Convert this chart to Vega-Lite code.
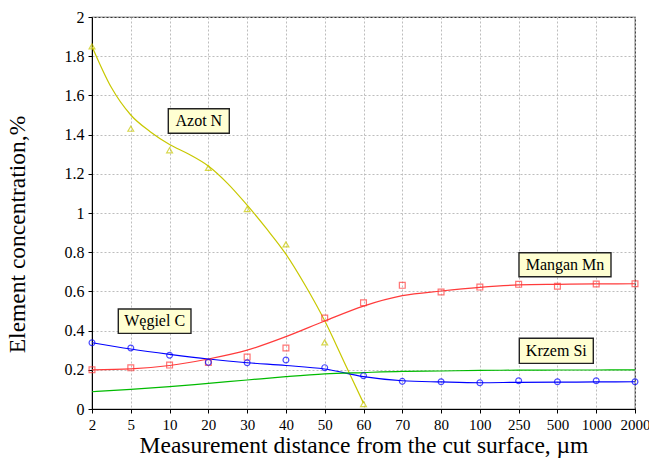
{
  "$schema": "https://vega.github.io/schema/vega-lite/v6.json",
  "width": 543,
  "height": 392,
  "autosize": "none",
  "padding": {"left": 92, "top": 17, "right": 14, "bottom": 58},
  "background": "white",
  "config": {
    "view": {"stroke": "#333333", "strokeWidth": 1.2},
    "font": "Liberation Serif, Times New Roman, serif",
    "axis": {
      "labelFont": "Liberation Serif, Times New Roman, serif",
      "titleFont": "Liberation Serif, Times New Roman, serif",
      "labelColor": "black",
      "titleColor": "black",
      "titleFontWeight": "normal",
      "labelFontWeight": "normal",
      "labelOverlap": false,
      "labelFlush": false,
      "domainColor": "black",
      "tickColor": "black",
      "gridColor": "#bdbdbd",
      "gridDash": [2, 2],
      "gridWidth": 1
    }
  },
  "datasets": {
    "points": [
      {"element": "Azot N", "pos": 0, "dist": "2", "value": 1.85},
      {"element": "Azot N", "pos": 1, "dist": "5", "value": 1.43},
      {"element": "Azot N", "pos": 2, "dist": "10", "value": 1.32},
      {"element": "Azot N", "pos": 3, "dist": "20", "value": 1.23},
      {"element": "Azot N", "pos": 4, "dist": "30", "value": 1.02},
      {"element": "Azot N", "pos": 5, "dist": "40", "value": 0.84},
      {"element": "Azot N", "pos": 6, "dist": "50", "value": 0.34},
      {"element": "Azot N", "pos": 7, "dist": "60", "value": 0.025},
      {"element": "Mangan Mn", "pos": 0, "dist": "2", "value": 0.2},
      {"element": "Mangan Mn", "pos": 1, "dist": "5", "value": 0.21},
      {"element": "Mangan Mn", "pos": 2, "dist": "10", "value": 0.224},
      {"element": "Mangan Mn", "pos": 3, "dist": "20", "value": 0.237},
      {"element": "Mangan Mn", "pos": 4, "dist": "30", "value": 0.265},
      {"element": "Mangan Mn", "pos": 5, "dist": "40", "value": 0.311},
      {"element": "Mangan Mn", "pos": 6, "dist": "50", "value": 0.464},
      {"element": "Mangan Mn", "pos": 7, "dist": "60", "value": 0.542},
      {"element": "Mangan Mn", "pos": 8, "dist": "70", "value": 0.631},
      {"element": "Mangan Mn", "pos": 9, "dist": "80", "value": 0.597},
      {"element": "Mangan Mn", "pos": 10, "dist": "100", "value": 0.622},
      {"element": "Mangan Mn", "pos": 11, "dist": "250", "value": 0.636},
      {"element": "Mangan Mn", "pos": 12, "dist": "500", "value": 0.626},
      {"element": "Mangan Mn", "pos": 13, "dist": "1000", "value": 0.638},
      {"element": "Mangan Mn", "pos": 14, "dist": "2000", "value": 0.639},
      {"element": "Węgiel C", "pos": 0, "dist": "2", "value": 0.338},
      {"element": "Węgiel C", "pos": 1, "dist": "5", "value": 0.311},
      {"element": "Węgiel C", "pos": 2, "dist": "10", "value": 0.274},
      {"element": "Węgiel C", "pos": 3, "dist": "20", "value": 0.238},
      {"element": "Węgiel C", "pos": 4, "dist": "30", "value": 0.236},
      {"element": "Węgiel C", "pos": 5, "dist": "40", "value": 0.25},
      {"element": "Węgiel C", "pos": 6, "dist": "50", "value": 0.211},
      {"element": "Węgiel C", "pos": 7, "dist": "60", "value": 0.17},
      {"element": "Węgiel C", "pos": 8, "dist": "70", "value": 0.141},
      {"element": "Węgiel C", "pos": 9, "dist": "80", "value": 0.139},
      {"element": "Węgiel C", "pos": 10, "dist": "100", "value": 0.134},
      {"element": "Węgiel C", "pos": 11, "dist": "250", "value": 0.144},
      {"element": "Węgiel C", "pos": 12, "dist": "500", "value": 0.139},
      {"element": "Węgiel C", "pos": 13, "dist": "1000", "value": 0.144},
      {"element": "Węgiel C", "pos": 14, "dist": "2000", "value": 0.139}
    ],
    "curves": [
      {"element": "Azot N", "pos": 0, "value": 1.85},
      {"element": "Azot N", "pos": 0.5, "value": 1.64},
      {"element": "Azot N", "pos": 1, "value": 1.5},
      {"element": "Azot N", "pos": 1.5, "value": 1.415},
      {"element": "Azot N", "pos": 2, "value": 1.35},
      {"element": "Azot N", "pos": 2.5, "value": 1.3},
      {"element": "Azot N", "pos": 3, "value": 1.24},
      {"element": "Azot N", "pos": 3.5, "value": 1.15},
      {"element": "Azot N", "pos": 4, "value": 1.04},
      {"element": "Azot N", "pos": 4.5, "value": 0.92},
      {"element": "Azot N", "pos": 5, "value": 0.79},
      {"element": "Azot N", "pos": 5.5, "value": 0.63},
      {"element": "Azot N", "pos": 6, "value": 0.45},
      {"element": "Azot N", "pos": 6.5, "value": 0.24},
      {"element": "Azot N", "pos": 7, "value": 0.03},
      {"element": "Mangan Mn", "pos": 0, "value": 0.2},
      {"element": "Mangan Mn", "pos": 1, "value": 0.205},
      {"element": "Mangan Mn", "pos": 2, "value": 0.222},
      {"element": "Mangan Mn", "pos": 3, "value": 0.255},
      {"element": "Mangan Mn", "pos": 4, "value": 0.3},
      {"element": "Mangan Mn", "pos": 5, "value": 0.369},
      {"element": "Mangan Mn", "pos": 6, "value": 0.449},
      {"element": "Mangan Mn", "pos": 7, "value": 0.525},
      {"element": "Mangan Mn", "pos": 8, "value": 0.578},
      {"element": "Mangan Mn", "pos": 9, "value": 0.602},
      {"element": "Mangan Mn", "pos": 10, "value": 0.621},
      {"element": "Mangan Mn", "pos": 11, "value": 0.633},
      {"element": "Mangan Mn", "pos": 12, "value": 0.636},
      {"element": "Mangan Mn", "pos": 13, "value": 0.638},
      {"element": "Mangan Mn", "pos": 14, "value": 0.639},
      {"element": "Węgiel C", "pos": 0, "value": 0.338},
      {"element": "Węgiel C", "pos": 1, "value": 0.306},
      {"element": "Węgiel C", "pos": 2, "value": 0.279},
      {"element": "Węgiel C", "pos": 3, "value": 0.255},
      {"element": "Węgiel C", "pos": 4, "value": 0.236},
      {"element": "Węgiel C", "pos": 5, "value": 0.222},
      {"element": "Węgiel C", "pos": 6, "value": 0.204},
      {"element": "Węgiel C", "pos": 7, "value": 0.165},
      {"element": "Węgiel C", "pos": 8, "value": 0.144},
      {"element": "Węgiel C", "pos": 9, "value": 0.138},
      {"element": "Węgiel C", "pos": 10, "value": 0.134},
      {"element": "Węgiel C", "pos": 11, "value": 0.136},
      {"element": "Węgiel C", "pos": 12, "value": 0.137},
      {"element": "Węgiel C", "pos": 13, "value": 0.138},
      {"element": "Węgiel C", "pos": 14, "value": 0.139},
      {"element": "Krzem Si", "pos": 0, "value": 0.088},
      {"element": "Krzem Si", "pos": 1, "value": 0.1},
      {"element": "Krzem Si", "pos": 2, "value": 0.114},
      {"element": "Krzem Si", "pos": 3, "value": 0.131},
      {"element": "Krzem Si", "pos": 4, "value": 0.148},
      {"element": "Krzem Si", "pos": 5, "value": 0.165},
      {"element": "Krzem Si", "pos": 6, "value": 0.179},
      {"element": "Krzem Si", "pos": 7, "value": 0.186},
      {"element": "Krzem Si", "pos": 8, "value": 0.192},
      {"element": "Krzem Si", "pos": 9, "value": 0.194},
      {"element": "Krzem Si", "pos": 10, "value": 0.197},
      {"element": "Krzem Si", "pos": 11, "value": 0.198},
      {"element": "Krzem Si", "pos": 12, "value": 0.199},
      {"element": "Krzem Si", "pos": 13, "value": 0.199},
      {"element": "Krzem Si", "pos": 14, "value": 0.2}
    ],
    "labels": [
      {"label": "Azot N", "x1": 1.967, "x2": 3.54, "y1": 1.532, "y2": 1.407, "tx": 2.754, "ty": 1.47},
      {"label": "Węgiel C", "x1": 0.678, "x2": 2.552, "y1": 0.51, "y2": 0.386, "tx": 1.615, "ty": 0.448},
      {"label": "Mangan Mn", "x1": 11.009, "x2": 13.381, "y1": 0.797, "y2": 0.675, "tx": 12.195, "ty": 0.736},
      {"label": "Krzem Si", "x1": 11.017, "x2": 12.925, "y1": 0.361, "y2": 0.233, "tx": 11.971, "ty": 0.297}
    ]
  },
  "encoding": {
    "x": {
      "field": "pos",
      "type": "quantitative",
      "scale": {"domain": [0, 14], "nice": false, "zero": false},
      "axis": {
        "title": "Measurement distance from the cut surface, µm",
        "values": [0, 1, 2, 3, 4, 5, 6, 7, 8, 9, 10, 11, 12, 13, 14],
        "labelExpr": "['2','5','10','20','30','40','50','60','70','80','100','250','500','1000','2000'][datum.value]",
        "labelFontSize": 15,
        "labelPadding": 4,
        "labelOverlap": false,
        "labelFlush": false,
        "tickSize": 4,
        "titleFontSize": 23.5,
        "titleBaseline": "alphabetic",
        "titleY": 43
      }
    },
    "y": {
      "field": "value",
      "type": "quantitative",
      "scale": {"domain": [0, 2], "nice": false},
      "axis": {
        "title": "Element concentration,%",
        "values": [0, 0.2, 0.4, 0.6, 0.8, 1, 1.2, 1.4, 1.6, 1.8, 2],
        "format": "~g",
        "labelFontSize": 16,
        "labelPadding": 4,
        "labelOverlap": false,
        "labelFlush": false,
        "tickSize": 4,
        "titleFontSize": 23.5,
        "titleBaseline": "alphabetic",
        "titleAlign": "center",
        "titleAngle": -90,
        "titleX": -68,
        "titleY": 217
      }
    }
  },
  "layer": [
    {
      "data": {"name": "curves"},
      "mark": {"type": "line", "interpolate": "monotone", "strokeWidth": 1.2},
      "encoding": {
        "color": {
          "field": "element",
          "type": "nominal",
          "scale": {
            "domain": ["Azot N", "Mangan Mn", "Węgiel C", "Krzem Si"],
            "range": ["#c8c800", "#ff3b3b", "#0000ff", "#00bb00"]
          },
          "legend": null
        },
        "detail": {"field": "element"}
      }
    },
    {
      "data": {"name": "points"},
      "mark": {"type": "point", "filled": false, "strokeWidth": 1.2, "size": 34, "clip": false},
      "encoding": {
        "color": {"field": "element", "type": "nominal", "legend": null},
        "shape": {
          "field": "element",
          "type": "nominal",
          "scale": {
            "domain": ["Azot N", "Mangan Mn", "Węgiel C"],
            "range": ["triangle-up", "square", "circle"]
          },
          "legend": null
        }
      }
    },
    {
      "data": {"name": "labels"},
      "mark": {"type": "rect", "fill": "#ffffd2", "stroke": "#222222", "strokeWidth": 1.4},
      "encoding": {
        "x": {"field": "x1", "type": "quantitative"},
        "x2": {"field": "x2"},
        "y": {"field": "y1", "type": "quantitative"},
        "y2": {"field": "y2"}
      }
    },
    {
      "data": {"name": "labels"},
      "mark": {"type": "text", "font": "Liberation Serif, Times New Roman, serif", "fontSize": 16, "color": "black", "align": "center", "baseline": "middle"},
      "encoding": {
        "x": {"field": "tx", "type": "quantitative"},
        "y": {"field": "ty", "type": "quantitative"},
        "text": {"field": "label"}
      }
    }
  ]
}
